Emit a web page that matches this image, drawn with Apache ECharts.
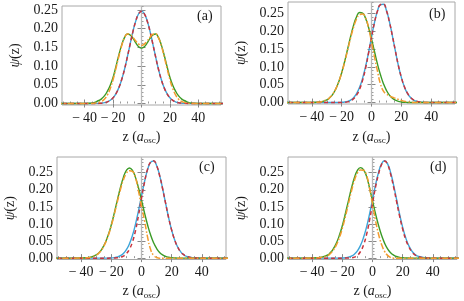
<!DOCTYPE html>
<html><head><meta charset="utf-8">
<script src="https://cdn.jsdelivr.net/npm/echarts@6/dist/echarts.min.js"></script>
<style>html,body{margin:0;padding:0;background:#fff}#c{width:464px;height:301px}</style>
</head><body><div id="c"></div>
<script>
// sample positions along z (a_osc)
const zs = [-60,-45,-36,-30,-28,-26,-24,-22,-20,-18,-16,-14,-12,-10,-8,-6,-4,-2,0,2,4,6,8,10,12,14,16,18,20,22,24,26,28,30,36,45,60];

// panel (a)
const aBlue   = [0,0,0,0.0005,0.0011,0.0023,0.0046,0.0087,0.0155,0.0263,0.042,0.0636,0.091,0.124,0.159,0.193,0.221,0.240,0.247,0.240,0.221,0.193,0.159,0.124,0.091,0.0636,0.042,0.0263,0.0155,0.0087,0.0046,0.0023,0.0011,0.0005,0,0,0];
const aRed    = [0,0,0,0.0004,0.001,0.0022,0.0045,0.0086,0.0153,0.026,0.0418,0.0634,0.0908,0.1238,0.1588,0.1928,0.2208,0.2398,0.2468,0.2398,0.2208,0.1928,0.1588,0.1238,0.0908,0.0634,0.0418,0.026,0.0153,0.0086,0.0045,0.0022,0.001,0.0004,0,0,0];
const aGreen  = [0,0,0.0008,0.008,0.013,0.021,0.033,0.049,0.070,0.099,0.129,0.156,0.176,0.186,0.183,0.174,0.162,0.152,0.148,0.152,0.162,0.174,0.183,0.186,0.176,0.156,0.129,0.099,0.070,0.049,0.033,0.021,0.013,0.008,0.0008,0,0];
const aOrange = [0,0,0,0.003,0.006,0.012,0.023,0.040,0.064,0.094,0.125,0.154,0.175,0.186,0.185,0.177,0.167,0.159,0.155,0.159,0.167,0.177,0.185,0.186,0.175,0.154,0.125,0.094,0.064,0.040,0.023,0.012,0.006,0.003,0,0,0];

// panel (b)
const bBlue   = [0,0,0,0,0,0,0,0.0003,0.0007,0.0016,0.0035,0.0071,0.0138,0.0251,0.0426,0.0676,0.1006,0.140,0.183,0.224,0.256,0.274,0.275,0.258,0.227,0.187,0.1445,0.104,0.0706,0.0447,0.0265,0.0147,0.0077,0.0037,0.0003,0,0];
const bRed    = [0,0,0,0,0,0,0,0.0001,0.0003,0.0008,0.002,0.005,0.011,0.021,0.037,0.062,0.096,0.138,0.182,0.224,0.256,0.274,0.276,0.258,0.226,0.187,0.145,0.104,0.071,0.045,0.027,0.015,0.008,0.004,0.0003,0,0];
const bGreen  = [0,0,0.0009,0.0075,0.0136,0.0232,0.0376,0.0576,0.0836,0.115,0.150,0.185,0.2165,0.240,0.252,0.2505,0.236,0.211,0.178,0.143,0.108,0.078,0.053,0.0343,0.021,0.0121,0.0067,0.0035,0.0017,0.0008,0.0003,0,0,0,0,0,0];
const bOrange = [0,0,0.001,0.008,0.014,0.024,0.038,0.058,0.083,0.113,0.147,0.181,0.211,0.234,0.246,0.248,0.238,0.210,0.170,0.128,0.088,0.052,0.032,0.024,0.019,0.015,0.012,0.009,0.006,0.004,0.002,0.001,0,0,0,0,0];

// panel (c)
const cBlue   = [0,0,0,0,0,0,0,0.0003,0.0007,0.0016,0.0034,0.0071,0.0136,0.0246,0.0417,0.0663,0.099,0.1385,0.1817,0.2237,0.2584,0.280,0.2845,0.271,0.2424,0.2033,0.160,0.118,0.0817,0.053,0.0323,0.0184,0.0099,0.005,0.0004,0,0];
const cRed    = [0,0,0,0,0,0,0,0,0.0001,0.0004,0.001,0.0025,0.006,0.013,0.026,0.047,0.080,0.125,0.176,0.222,0.260,0.281,0.285,0.271,0.242,0.203,0.160,0.118,0.082,0.053,0.032,0.018,0.010,0.005,0.0004,0,0];
const cGreen  = [0,0,0.0012,0.0094,0.0167,0.0283,0.0452,0.0683,0.0978,0.1324,0.1698,0.206,0.2364,0.2568,0.264,0.2568,0.2364,0.206,0.1698,0.1324,0.0978,0.0683,0.0452,0.0283,0.0167,0.0094,0.005,0.0025,0.0012,0.0005,0,0,0,0,0,0,0];
const cOrange = [0,0,0.001,0.009,0.016,0.027,0.044,0.066,0.095,0.129,0.165,0.200,0.229,0.248,0.256,0.254,0.236,0.196,0.152,0.110,0.062,0.026,0.008,0.002,0,0,0,0,0,0,0,0,0,0,0,0,0];

// panel (d)
const dBlue   = [0,0,0,0,0,0,0,0.0002,0.0005,0.0013,0.0028,0.0059,0.0116,0.0213,0.0368,0.0594,0.090,0.128,0.171,0.2137,0.2508,0.276,0.285,0.276,0.2508,0.2137,0.171,0.128,0.090,0.0594,0.0368,0.0213,0.0116,0.0059,0.0005,0,0];
const dRed    = [0,0,0,0,0,0,0,0,0,0.0001,0.0004,0.001,0.003,0.008,0.019,0.038,0.068,0.110,0.160,0.208,0.246,0.274,0.284,0.274,0.246,0.208,0.165,0.122,0.085,0.055,0.034,0.019,0.010,0.005,0.0004,0,0];
const dGreen  = [0,0,0.0011,0.0085,0.0155,0.027,0.0435,0.066,0.095,0.130,0.167,0.204,0.235,0.257,0.265,0.259,0.240,0.206,0.168,0.130,0.096,0.067,0.044,0.027,0.016,0.009,0.0048,0.0024,0.0011,0.0005,0.0002,0,0,0,0,0,0];
const dOrange = [0,0,0.001,0.007,0.013,0.023,0.038,0.059,0.087,0.121,0.158,0.195,0.227,0.249,0.258,0.257,0.243,0.206,0.158,0.110,0.070,0.040,0.020,0.008,0.002,0,0,0,0,0,0,0,0,0,0,0,0];

// tick labels
const xTicks = [-40,-20,0,20,40];
const xMinorTicks = [-55,-50,-45,-35,-30,-25,-15,-10,-5,5,10,15,25,30,35,45,50,55];
const yTicks = [0,0.05,0.10,0.15,0.20,0.25];
const yMinorTicks = [0.01,0.02,0.03,0.04,0.06,0.07,0.08,0.09,0.11,0.12,0.13,0.14,0.16,0.17,0.18,0.19,0.21,0.22,0.23,0.24,0.26,0.27,0.28,0.29];
const panelLabels = ['(a)','(b)','(c)','(d)'];

const panelData = [
  [aBlue,aGreen,aRed,aOrange],
  [bBlue,bGreen,bRed,bOrange],
  [cBlue,cGreen,cRed,cOrange],
  [dBlue,dGreen,dRed,dOrange]
];

const layout = [
  {grid:{left:62,top:6,width:159,height:99}, x:[-56,56], y:[-0.004,0.2607], lab:[197,9], lm:6, ng:23},
  {grid:{left:288,top:2,width:167,height:102}, x:[-56,56], y:[-0.004,0.2815], lab:[429,7], lm:6, ng:24},
  {grid:{left:57,top:157,width:169,height:103}, x:[-56,56], y:[-0.004,0.296], lab:[199,160], lm:6, ng:23},
  {grid:{left:288,top:157,width:169,height:103}, x:[-56,56], y:[-0.004,0.296], lab:[430,160], lm:6, ng:23}
];

const FONT = 'Liberation Serif';
const frameCol = '#a8a8a8';
const txt = '#1a1a1a';
const styles = [
  {color:'#3da5d9', type:'solid', width:1.4},
  {color:'#3a9b27', type:'solid', width:1.4},
  {color:'#c9333d', type:[4,3], width:1.5},
  {color:'#f39c2f', type:[6,2,1.5,2], width:1.5}
];

const option = {animation:false, grid:[], xAxis:[], yAxis:[], series:[], graphic:[]};

layout.forEach((L,i)=>{
  option.grid.push(Object.assign({show:true, borderColor:frameCol, borderWidth:1, containLabel:false}, L.grid));
  const xb = option.xAxis.length;
  const xCommon = {type:'value', gridIndex:i, min:L.x[0], max:L.x[1], axisLine:{show:false}, splitLine:{show:false}};
  option.xAxis.push(Object.assign({}, xCommon, {
    position:'bottom',
    axisTick:{show:true, inside:true, length:4, lineStyle:{color:'#888'}, customValues:xTicks},
    axisLabel:{customValues:xTicks, fontFamily:FONT, fontSize:14, color:txt, margin:L.lm,
      formatter:v=> v<0 ? '\u2212\u2009'+Math.abs(v) : String(v)},
    name:'{n|z (}{i|a}{s|osc}{n|)}', nameLocation:'middle', nameGap:L.ng,
    nameTextStyle:{rich:{
      n:{fontFamily:FONT,fontSize:14,color:txt,verticalAlign:'middle',lineHeight:18},
      i:{fontFamily:FONT,fontSize:14,color:txt,fontStyle:'italic',verticalAlign:'middle',lineHeight:18},
      s:{fontFamily:FONT,fontSize:9,color:txt,verticalAlign:'middle',lineHeight:18,padding:[8,0,0,0]}
    }}
  }));
  option.xAxis.push(Object.assign({}, xCommon, {position:'bottom', axisLabel:{show:false},
    axisTick:{show:true, inside:true, length:2, lineStyle:{color:'#999'}, customValues:xMinorTicks}}));
  option.xAxis.push(Object.assign({}, xCommon, {position:'top', axisLabel:{show:false},
    axisTick:{show:true, inside:true, length:4, lineStyle:{color:'#888'}, customValues:xTicks}}));

  const yb = option.yAxis.length;
  const yCommon = {type:'value', gridIndex:i, min:L.y[0], max:L.y[1], axisLine:{show:false}, splitLine:{show:false}};
  option.yAxis.push(Object.assign({}, yCommon, {
    position:'left',
    axisTick:{show:true, inside:true, length:4, lineStyle:{color:'#888'}, customValues:yTicks},
    axisLabel:{customValues:yTicks, fontFamily:FONT, fontSize:14, color:txt, margin:4,
      formatter:v=>v.toFixed(2)},
    name:'{i|\u03c8}{n|(z)}', nameLocation:'middle', nameGap:40, nameRotate:90,
    nameTextStyle:{rich:{
      n:{fontFamily:FONT,fontSize:14,color:txt},
      i:{fontFamily:FONT,fontSize:14,color:txt,fontStyle:'italic'}
    }}
  }));
  option.yAxis.push(Object.assign({}, yCommon, {position:'left', axisLabel:{show:false},
    axisTick:{show:true, inside:true, length:2, lineStyle:{color:'#999'}, customValues:yMinorTicks}}));
  option.yAxis.push(Object.assign({}, yCommon, {position:'right', axisLabel:{show:false},
    axisTick:{show:true, inside:true, length:4, lineStyle:{color:'#888'}, customValues:yTicks}}));

  panelData[i].forEach((vals,k)=>{
    const s = {
      type:'line', xAxisIndex:xb, yAxisIndex:yb, showSymbol:false, smooth:0.5,
      data: zs.map((z,j)=>[z, vals[j]]),
      lineStyle:styles[k], silent:true, z: 2+k
    };
    if(k===0){
      s.markLine = {silent:true, symbol:'none', label:{show:false},
        lineStyle:{color:'#b8b8b8', type:'solid', width:1.3}, data:[{xAxis:0}], z:1};
    }
    option.series.push(s);
  });

  option.graphic.push({type:'text', left:L.lab[0], top:L.lab[1],
    style:{text:panelLabels[i], font:'14px "'+FONT+'"', fill:txt}});
});

const chart = echarts.init(document.getElementById('c'), null, {renderer:'canvas'});
chart.setOption(option);
</script>
</body></html>
